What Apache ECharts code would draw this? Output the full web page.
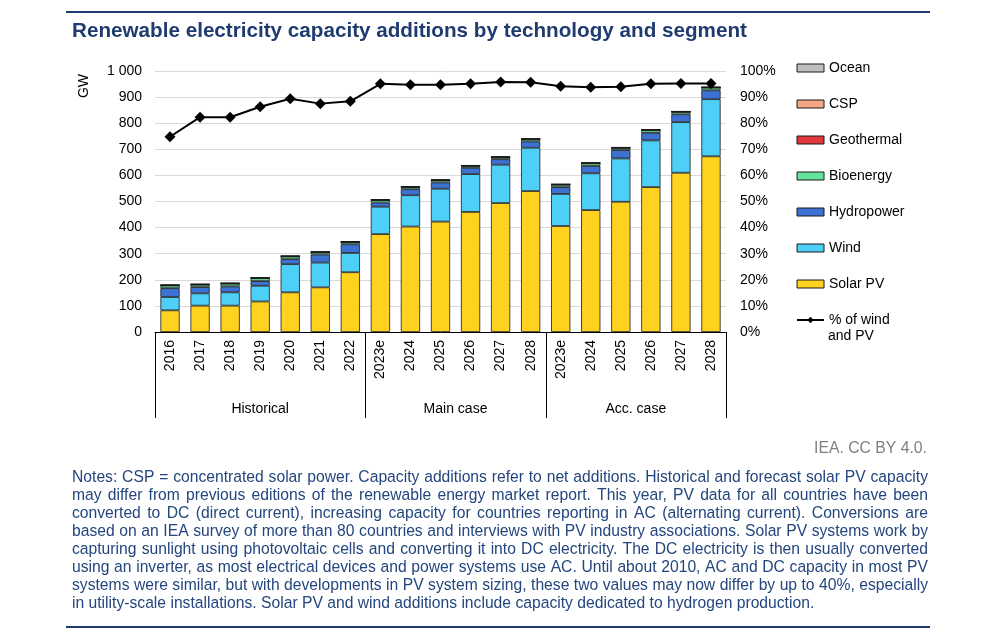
<!DOCTYPE html>
<html><head><meta charset="utf-8">
<script src="https://cdn.jsdelivr.net/npm/echarts@6/dist/echarts.min.js"></script>
<style>html,body{margin:0;padding:0;background:#fff}#c{width:1000px;height:640px}</style>
</head><body><div id="c"></div>
<script>
// ---------- DATA ----------
const categories = ['2016','2017','2018','2019','2020','2021','2022',
  '2023e','2024','2025','2026','2027','2028',
  '2023e','2024','2025','2026','2027','2028'];
const groupNames = ['Historical', 'Main case', 'Acc. case'];
const groupSizes = [7, 6, 6];

const solarPV    = [83,101,101,117,152,171,229, 375,404,423,460,494,540, 406,467,499,555,610,673];
const wind       = [51, 47, 51, 60,108, 95, 74, 105,120,126,145,147,166, 123,141,166,179,194,219];
const hydropower = [34, 24, 23, 18, 19, 31, 33,  16, 23, 24, 24, 21, 24,  26, 28, 32, 29, 30, 34];
const bioenergy  = [10,  9, 10, 11, 10,  8,  8,   9,  8,  8,  7,  7,  8,   9, 10,  8, 10,  9, 10];
const geothermal = [ 1,  1,  1,  1,  1,  1,  1,   1,  1,  1,  1,  1,  1,   1,  1,  1,  1,  1,  1];
const csp        = [ 1,  1,  1,  1,  1,  1,  1,   1,  1,  1,  1,  1,  1,   1,  1,  1,  1,  1,  1];
const ocean      = [0.1,0.1,0.1,0.1,0.1,0.1,0.1, 0.1,0.1,0.1,0.1,0.1,0.1, 0.1,0.1,0.1,0.1,0.1,0.1];
const pctWindPV  = [74.8,82.3,82.3,86.3,89.4,87.5,88.4, 95.1,94.7,94.7,95.1,95.8,95.7, 94.2,93.8,94.0,95.1,95.2,95.2];

const titleText = 'Renewable electricity capacity additions by technology and segment';
const sourceText = 'IEA. CC BY 4.0.';
const noteLines = [
  'Notes: CSP = concentrated solar power. Capacity additions refer to net additions. Historical and forecast solar PV capacity',
  'may differ from previous editions of the renewable energy market report. This year, PV data for all countries have been',
  'converted to DC (direct current), increasing capacity for countries reporting in AC (alternating current). Conversions are',
  'based on an IEA survey of more than 80 countries and interviews with PV industry associations. Solar PV systems work by',
  'capturing sunlight using photovoltaic cells and converting it into DC electricity. The DC electricity is then usually converted',
  'using an inverter, as most electrical devices and power systems use AC. Until about 2010, AC and DC capacity in most PV',
  'systems were similar, but with developments in PV system sizing, these two values may now differ by up to 40%, especially',
  'in utility-scale installations. Solar PV and wind additions include capacity dedicated to hydrogen production.'
];

// ---------- CHART ----------
const FONT = '"Liberation Sans", Arial, Helvetica, sans-serif';
const NARROW = '"Liberation Sans Narrow", "Arial Narrow", "Liberation Sans", Arial, sans-serif';
const NAVY = '#1F3B6F';
const NOTE = '#24467E';
const chart = echarts.init(document.getElementById('c'));

const barDefs = [
  ['Solar PV', solarPV, '#FFD21F'],
  ['Wind', wind, '#4ECFF7'],
  ['Hydropower', hydropower, '#3D72D3'],
  ['Bioenergy', bioenergy, '#66E39A'],
  ['Geothermal', geothermal, '#E0383D'],
  ['CSP', csp, '#F6A788'],
  ['Ocean', ocean, '#BFBFBF']
];
const lineName = '% of wind and PV';

const series = barDefs.map(([name, data, color]) => ({
  name, type: 'bar', stack: 'total', data, barWidth: '64%',
  itemStyle: { color, borderColor: '#1a1a1a', borderWidth: 0.8 },
  emphasis: { disabled: true }
}));
series.push({
  name: lineName, type: 'line', yAxisIndex: 1, data: pctWindPV,
  symbol: 'diamond', symbolSize: 11, z: 5,
  lineStyle: { color: '#000', width: 2 }, itemStyle: { color: '#000' }
});

const legendOrder = ['Ocean','CSP','Geothermal','Bioenergy','Hydropower','Wind','Solar PV'];

chart.setOption({
  animation: false,
  textStyle: { fontFamily: FONT },
  grid: { left: 155, right: 274, top: 71, bottom: 308 },
  xAxis: {
    type: 'category', data: categories,
    axisLine: { lineStyle: { color: '#000', width: 1 } },
    axisTick: { show: false },
    axisLabel: { rotate: 90, fontSize: 14, color: '#000', margin: 8, interval: 0, fontFamily: FONT }
  },
  yAxis: [{
    type: 'value', min: 0, max: 1000, interval: 100,
    axisLine: { show: false }, axisTick: { show: false },
    splitLine: { lineStyle: { color: '#d9d9d9', width: 1 } },
    axisLabel: { fontSize: 14, color: '#000', margin: 13, fontFamily: FONT,
      formatter: v => String(v).replace(/\B(?=(\d{3})+(?!\d))/g, ' ') }
  }, {
    type: 'value', min: 0, max: 100, interval: 10,
    axisLine: { show: false }, axisTick: { show: false }, splitLine: { show: false },
    axisLabel: { fontSize: 14, color: '#000', margin: 14, fontFamily: FONT, formatter: '{value}%' }
  }],
  legend: {
    orient: 'vertical', left: 796, top: 60, padding: 0,
    itemWidth: 27, itemHeight: 8, itemGap: 20,
    textStyle: { fontSize: 14, color: '#000', lineHeight: 16, fontFamily: FONT },
    itemStyle: { borderWidth: 1 },
    selectedMode: false,
    data: legendOrder.map(n => ({ name: n, icon: 'rect' })).concat([{ name: lineName }]),
    formatter: n => n === lineName ? '% of wind' : n
  },
  series
});

// ---------- GRAPHIC (text, separators) ----------
const graphics = [];
graphics.push({ type: 'line', shape: { x1: 66, y1: 12, x2: 930, y2: 12 }, style: { stroke: NAVY, lineWidth: 2 } });
graphics.push({ type: 'line', shape: { x1: 66, y1: 627, x2: 930, y2: 627 }, style: { stroke: NAVY, lineWidth: 2 } });

const mctx = document.createElement('canvas').getContext('2d');
function measure(text, font) { mctx.font = font; return mctx.measureText(text).width; }

// title fitted to reference width
let tfs = 18;
const tw = measure(titleText, 'bold ' + tfs + 'px ' + NARROW);
tfs = Math.max(16, Math.min(22, tfs * 675 / tw));
graphics.push({ type: 'text', style: { text: titleText, x: 72, y: 31, font: 'bold ' + tfs.toFixed(2) + 'px ' + NARROW, fill: NAVY, verticalAlign: 'middle', align: 'left' } });

// GW axis name
graphics.push({ type: 'text', x: 84, y: 86, rotation: Math.PI / 2, style: { text: 'GW', font: '14px ' + FONT, fill: '#000', align: 'center', verticalAlign: 'middle' } });

// legend second line
graphics.push({ type: 'text', style: { text: 'and PV', x: 828, y: 336, font: '14px ' + FONT, fill: '#000', verticalAlign: 'middle' } });

// category group separators & labels
const c0 = chart.convertToPixel({ xAxisIndex: 0 }, 0);
const c1 = chart.convertToPixel({ xAxisIndex: 0 }, 1);
const pitch = c1 - c0;
const yBase = chart.convertToPixel({ yAxisIndex: 0 }, 0);
const bx = b => c0 - pitch / 2 + b * pitch;
let start = 0;
const bounds = [0];
groupSizes.forEach(s => { start += s; bounds.push(start); });
bounds.forEach(b => graphics.push({ type: 'line', shape: { x1: Math.round(bx(b)) + 0.5, y1: yBase, x2: Math.round(bx(b)) + 0.5, y2: yBase + 86 }, style: { stroke: '#000', lineWidth: 1 } }));
groupNames.forEach((g, i) => {
  const cx = (bx(bounds[i]) + bx(bounds[i + 1])) / 2;
  graphics.push({ type: 'text', style: { text: g, x: cx, y: yBase + 77, font: '14px ' + FONT, fill: '#000', align: 'center', verticalAlign: 'middle' } });
});

// source
let sfs = 14;
sfs = sfs * 113 / measure(sourceText, sfs + 'px ' + NARROW);
sfs = Math.min(18, sfs);
graphics.push({ type: 'text', style: { text: sourceText, x: 927, y: 449, font: sfs.toFixed(2) + 'px ' + NARROW, fill: '#808080', align: 'right', verticalAlign: 'middle' } });

// notes, justified
const NX = 72, NW = 856;
let nfs = 14;
const lastW = measure(noteLines[noteLines.length - 1], nfs + 'px ' + NARROW);
nfs = nfs * 745 / lastW;
noteLines.slice(0, -1).forEach(l => {
  const w = measure(l, nfs + 'px ' + NARROW);
  if (w > NW - 2) nfs = nfs * (NW - 2) / w;
});
nfs = Math.min(18, nfs);
const nfont = nfs.toFixed(2) + 'px ' + NARROW;
noteLines.forEach((line, li) => {
  const y = 478 + li * 18;
  if (li === noteLines.length - 1) {
    graphics.push({ type: 'text', style: { text: line, x: NX, y, font: nfont, fill: NOTE, verticalAlign: 'middle' } });
    return;
  }
  const words = line.split(' ');
  const ws = words.map(w => measure(w, nfont));
  const sum = ws.reduce((a, b) => a + b, 0);
  const gap = (NW - sum) / (words.length - 1);
  let x = NX;
  words.forEach((w, i) => {
    graphics.push({ type: 'text', style: { text: w, x, y, font: nfont, fill: NOTE, verticalAlign: 'middle' } });
    x += ws[i] + gap;
  });
});

chart.setOption({ graphic: graphics });
</script>
</body></html>
